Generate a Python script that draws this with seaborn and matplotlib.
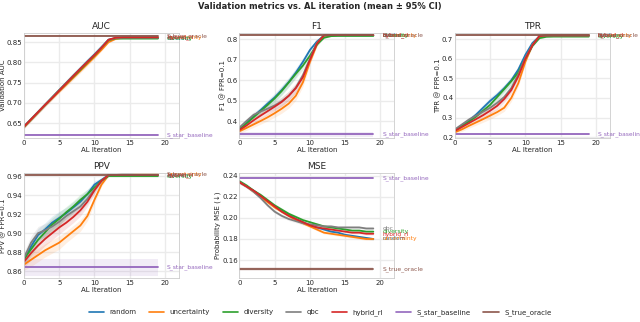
import numpy as np
import pandas as pd
import seaborn as sns
import matplotlib.pyplot as plt
from matplotlib.lines import Line2D

iterations = list(range(20))
strategies = ["random", "uncertainty", "diversity", "qbc", "hybrid_rl"]
refs = ["S_star_baseline", "S_true_oracle"]

# --- AUC ---
auc = {
    "random":      [0.641,0.659,0.677,0.695,0.713,0.731,0.749,0.767,0.785,0.803,0.820,0.838,0.856,0.860,0.860,0.860,0.860,0.860,0.860,0.860],
    "uncertainty": [0.640,0.658,0.676,0.694,0.711,0.728,0.745,0.762,0.779,0.796,0.813,0.831,0.850,0.858,0.861,0.862,0.862,0.862,0.862,0.862],
    "diversity":   [0.641,0.659,0.677,0.695,0.713,0.731,0.748,0.765,0.782,0.800,0.817,0.836,0.855,0.859,0.859,0.859,0.859,0.859,0.859,0.859],
    "qbc":         [0.642,0.660,0.678,0.696,0.714,0.732,0.750,0.768,0.785,0.802,0.819,0.837,0.856,0.860,0.861,0.861,0.861,0.861,0.861,0.861],
    "hybrid_rl":   [0.641,0.659,0.677,0.695,0.712,0.730,0.748,0.766,0.784,0.801,0.818,0.836,0.856,0.861,0.862,0.862,0.862,0.862,0.862,0.862],
}
auc_ci = [0.004,0.004,0.004,0.004,0.004,0.004,0.005,0.005,0.005,0.005,0.004,0.003,0.002,0.002,0.002,0.002,0.002,0.002,0.002,0.002]
auc_refs = {"S_star_baseline": 0.621, "S_true_oracle": 0.866}
auc_refs_ci = {"S_star_baseline": 0.001, "S_true_oracle": 0.002}

# --- F1 @ FPR=0.1 ---
f1 = {
    "random":      [0.360,0.392,0.425,0.455,0.487,0.517,0.553,0.592,0.638,0.690,0.748,0.790,0.818,0.820,0.820,0.820,0.820,0.820,0.820,0.820],
    "uncertainty": [0.352,0.368,0.385,0.402,0.420,0.440,0.462,0.487,0.525,0.590,0.690,0.775,0.818,0.821,0.821,0.821,0.821,0.821,0.821,0.821],
    "diversity":   [0.362,0.390,0.420,0.450,0.480,0.512,0.548,0.590,0.632,0.672,0.720,0.775,0.808,0.816,0.817,0.817,0.817,0.817,0.817,0.817],
    "qbc":         [0.370,0.402,0.432,0.448,0.462,0.478,0.498,0.525,0.565,0.625,0.705,0.785,0.820,0.821,0.821,0.821,0.821,0.821,0.821,0.821],
    "hybrid_rl":   [0.358,0.380,0.405,0.428,0.450,0.472,0.495,0.525,0.562,0.615,0.700,0.780,0.820,0.821,0.821,0.821,0.821,0.821,0.821,0.821],
}
f1_ci = [0.010,0.012,0.014,0.016,0.018,0.020,0.022,0.022,0.022,0.020,0.015,0.008,0.003,0.002,0.002,0.002,0.002,0.002,0.002,0.002]
f1_refs = {"S_star_baseline": 0.338, "S_true_oracle": 0.822}
f1_refs_ci = {"S_star_baseline": 0.012, "S_true_oracle": 0.002}

# --- TPR @ FPR=0.1 ---
tpr = {
    "random":      [0.232,0.260,0.285,0.315,0.350,0.385,0.415,0.450,0.490,0.545,0.620,0.680,0.715,0.718,0.718,0.718,0.718,0.718,0.718,0.718],
    "uncertainty": [0.225,0.240,0.258,0.275,0.292,0.310,0.328,0.350,0.400,0.475,0.585,0.670,0.715,0.720,0.720,0.720,0.720,0.720,0.720,0.720],
    "diversity":   [0.235,0.258,0.280,0.305,0.335,0.365,0.405,0.445,0.485,0.530,0.600,0.665,0.705,0.712,0.713,0.713,0.713,0.713,0.713,0.713],
    "qbc":         [0.240,0.265,0.290,0.310,0.330,0.350,0.375,0.405,0.450,0.520,0.605,0.670,0.716,0.718,0.718,0.718,0.718,0.718,0.718,0.718],
    "hybrid_rl":   [0.232,0.252,0.272,0.292,0.312,0.335,0.360,0.395,0.440,0.510,0.600,0.668,0.716,0.719,0.719,0.719,0.719,0.719,0.719,0.719],
}
tpr_ci = [0.008,0.010,0.012,0.014,0.016,0.018,0.018,0.018,0.018,0.016,0.012,0.006,0.003,0.002,0.002,0.002,0.002,0.002,0.002,0.002]
tpr_refs = {"S_star_baseline": 0.215, "S_true_oracle": 0.719}
tpr_refs_ci = {"S_star_baseline": 0.002, "S_true_oracle": 0.002}

# --- PPV @ FPR=0.1 ---
ppv = {
    "random":      [0.872,0.886,0.898,0.904,0.911,0.916,0.921,0.927,0.933,0.941,0.951,0.956,0.961,0.961,0.961,0.961,0.961,0.961,0.961,0.961],
    "uncertainty": [0.867,0.872,0.877,0.882,0.886,0.890,0.896,0.902,0.908,0.918,0.935,0.951,0.961,0.961,0.962,0.962,0.962,0.962,0.962,0.962],
    "diversity":   [0.873,0.883,0.893,0.901,0.909,0.915,0.922,0.928,0.935,0.941,0.948,0.955,0.960,0.960,0.960,0.960,0.960,0.960,0.960,0.960],
    "qbc":         [0.874,0.890,0.900,0.903,0.907,0.912,0.918,0.923,0.928,0.936,0.946,0.955,0.961,0.961,0.962,0.962,0.961,0.961,0.961,0.961],
    "hybrid_rl":   [0.870,0.879,0.887,0.894,0.900,0.906,0.911,0.917,0.924,0.933,0.945,0.955,0.961,0.961,0.961,0.961,0.961,0.961,0.961,0.961],
}
ppv_ci = [0.006,0.007,0.007,0.007,0.007,0.007,0.006,0.006,0.006,0.005,0.004,0.002,0.001,0.001,0.001,0.001,0.001,0.001,0.001,0.001]
ppv_refs = {"S_star_baseline": 0.864, "S_true_oracle": 0.9615}
ppv_refs_ci = {"S_star_baseline": 0.009, "S_true_oracle": 0.0005}

# --- Probability MSE ---
mse = {
    "random":      [0.234,0.230,0.226,0.221,0.216,0.211,0.207,0.203,0.199,0.196,0.193,0.191,0.189,0.187,0.186,0.184,0.183,0.182,0.181,0.180],
    "uncertainty": [0.234,0.230,0.225,0.220,0.215,0.210,0.206,0.202,0.198,0.195,0.192,0.189,0.186,0.185,0.184,0.183,0.182,0.181,0.180,0.180],
    "diversity":   [0.235,0.231,0.226,0.222,0.217,0.212,0.208,0.204,0.201,0.198,0.196,0.194,0.192,0.191,0.190,0.189,0.188,0.188,0.187,0.187],
    "qbc":         [0.234,0.230,0.225,0.219,0.212,0.206,0.202,0.199,0.197,0.195,0.194,0.193,0.192,0.192,0.191,0.191,0.191,0.191,0.190,0.190],
    "hybrid_rl":   [0.234,0.230,0.226,0.221,0.216,0.211,0.206,0.202,0.199,0.196,0.193,0.191,0.190,0.189,0.188,0.187,0.186,0.186,0.185,0.185],
}
mse_ci = [0.0015,0.0015,0.0015,0.0015,0.0015,0.0015,0.0015,0.0015,0.0015,0.0015,0.0012,0.0012,0.0012,0.0012,0.0012,0.0012,0.0012,0.0012,0.0012,0.0012]
mse_refs = {"S_star_baseline": 0.238, "S_true_oracle": 0.1515}
mse_refs_ci = {"S_star_baseline": 0.0005, "S_true_oracle": 0.0015}

panels = [
    ("AUC", "Validation AUC", auc, auc_ci, auc_refs, auc_refs_ci, (0.614, 0.873)),
    ("F1", "F1 @ FPR=0.1", f1, f1_ci, f1_refs, f1_refs_ci, (0.321, 0.832)),
    ("TPR", "TPR @ FPR=0.1", tpr, tpr_ci, tpr_refs, tpr_refs_ci, (0.198, 0.732)),
    ("PPV", "PPV @ FPR=0.1", ppv, ppv_ci, ppv_refs, ppv_refs_ci, (0.853, 0.963)),
    ("MSE", "Probability MSE (\u2193)", mse, mse_ci, mse_refs, mse_refs_ci, (0.143, 0.2426)),
]

pal = sns.color_palette("tab10")
colors = {
    "random": pal[0], "uncertainty": pal[1], "diversity": pal[2], "qbc": pal[7],
    "hybrid_rl": pal[3], "S_star_baseline": pal[4], "S_true_oracle": pal[5],
}

sns.set_theme(style="whitegrid", rc={
    "axes.edgecolor": "#cccccc", "grid.color": "#ebebeb", "axes.linewidth": 0.6,
    "xtick.labelsize": 5, "ytick.labelsize": 5, "axes.labelsize": 5,
    "axes.titlesize": 6.5, "xtick.major.pad": 1.5, "ytick.major.pad": 1.2,
})

fig, axes = plt.subplots(2, 3, figsize=(6.4, 3.22), dpi=100)
fig.subplots_adjust(left=0.0375, right=0.953, top=0.898, bottom=0.137,
                    wspace=0.39, hspace=0.34)
axes = axes.ravel()

for ax, (title, ylabel, series, ci, ref_vals, ref_ci, ylim) in zip(axes, panels):
    rows = []
    for name in strategies:
        for it, v in zip(iterations, series[name]):
            rows.append((it, v, name))
    for name in refs:
        for it in iterations:
            rows.append((it, ref_vals[name], name))
    df = pd.DataFrame(rows, columns=["iteration", "value", "strategy"])

    # confidence bands
    for name in strategies:
        m = np.array(series[name])
        c = np.array(ci)
        ax.fill_between(iterations, m - c, m + c, color=colors[name], alpha=0.12, lw=0)
    for name in refs:
        ax.fill_between(iterations, ref_vals[name] - ref_ci[name], ref_vals[name] + ref_ci[name],
                        color=colors[name], alpha=0.12, lw=0)

    sns.lineplot(data=df, x="iteration", y="value", hue="strategy",
                 hue_order=strategies + refs, palette=colors, errorbar=None,
                 legend=False, lw=1.3, ax=ax)

    # end labels
    for name in strategies:
        ax.text(20.3, series[name][-1], name, color=colors[name], fontsize=4.3,
                va="center", ha="left", clip_on=False)
    for name in refs:
        ax.text(20.3, ref_vals[name], name, color=colors[name], fontsize=4.3,
                va="center", ha="left", clip_on=False)

    ax.set_title(title, pad=3)
    ax.set_xlabel("AL Iteration", labelpad=1)
    ax.set_ylabel(ylabel, labelpad=0.5)
    ax.set_xlim(0, 22)
    ax.set_ylim(*ylim)
    ax.set_xticks([0, 5, 10, 15, 20])
    ax.tick_params(length=0)

axes[5].set_visible(False)

handles = [Line2D([0], [0], color=colors[n], lw=1.2) for n in strategies + refs]
fig.legend(handles, strategies + refs, loc="lower center", ncol=7, frameon=False,
           fontsize=5, bbox_to_anchor=(0.5, 0.0), handlelength=2.2, columnspacing=1.8)

fig.suptitle("Validation metrics vs. AL iteration (mean \u00b1 95% CI)",
             fontsize=6, fontweight="bold", y=0.995)

plt.savefig("out.png", dpi=100)
